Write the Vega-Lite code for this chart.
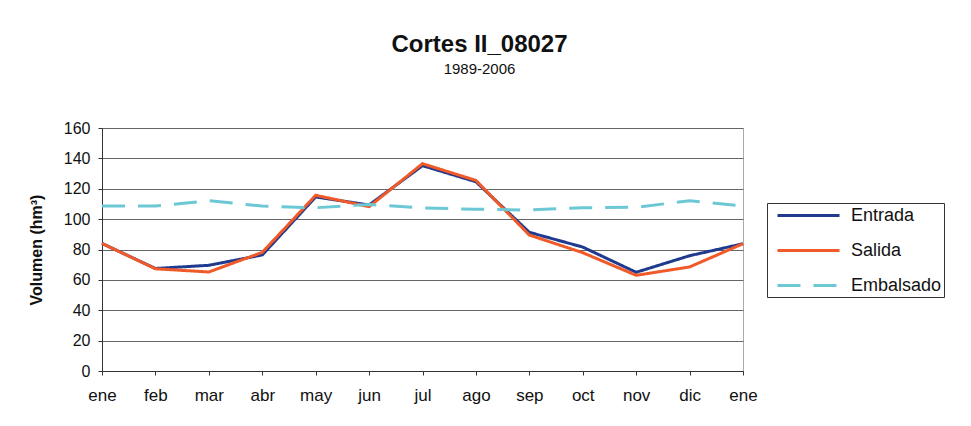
{
  "$schema": "https://vega.github.io/schema/vega-lite/v6.json",
  "width": 641,
  "height": 243,
  "autosize": {"type": "none"},
  "padding": {"left": 102, "top": 128, "right": 228, "bottom": 55},
  "background": "white",
  "title": {
    "text": "Cortes II_08027",
    "subtitle": "1989-2006",
    "anchor": "middle",
    "frame": "group",
    "dx": 57,
    "offset": 43,
    "font": "Liberation Sans",
    "fontSize": 24,
    "fontWeight": "bold",
    "color": "#111",
    "subtitleFont": "Liberation Sans",
    "subtitleFontSize": 15,
    "subtitleColor": "#111",
    "subtitlePadding": 5
  },
  "data": {
    "values": [
      {"i": 0, "serie": "Entrada", "valor": 84},
      {"i": 1, "serie": "Entrada", "valor": 67.5},
      {"i": 2, "serie": "Entrada", "valor": 69.6},
      {"i": 3, "serie": "Entrada", "valor": 76.4},
      {"i": 4, "serie": "Entrada", "valor": 114.6},
      {"i": 5, "serie": "Entrada", "valor": 109.3},
      {"i": 6, "serie": "Entrada", "valor": 135.2},
      {"i": 7, "serie": "Entrada", "valor": 124.6},
      {"i": 8, "serie": "Entrada", "valor": 91.3},
      {"i": 9, "serie": "Entrada", "valor": 81.6},
      {"i": 10, "serie": "Entrada", "valor": 65},
      {"i": 11, "serie": "Entrada", "valor": 75.9},
      {"i": 12, "serie": "Entrada", "valor": 83.8},
      {"i": 0, "serie": "Salida", "valor": 84},
      {"i": 1, "serie": "Salida", "valor": 67.3},
      {"i": 2, "serie": "Salida", "valor": 65.2},
      {"i": 3, "serie": "Salida", "valor": 78.1},
      {"i": 4, "serie": "Salida", "valor": 115.7},
      {"i": 5, "serie": "Salida", "valor": 108.2},
      {"i": 6, "serie": "Salida", "valor": 136.5},
      {"i": 7, "serie": "Salida", "valor": 125.5},
      {"i": 8, "serie": "Salida", "valor": 89.5},
      {"i": 9, "serie": "Salida", "valor": 77.9},
      {"i": 10, "serie": "Salida", "valor": 63},
      {"i": 11, "serie": "Salida", "valor": 68.5},
      {"i": 12, "serie": "Salida", "valor": 83.8},
      {"i": 0, "serie": "Embalsado", "valor": 108.6},
      {"i": 1, "serie": "Embalsado", "valor": 108.6},
      {"i": 2, "serie": "Embalsado", "valor": 112.1},
      {"i": 3, "serie": "Embalsado", "valor": 108.6},
      {"i": 4, "serie": "Embalsado", "valor": 107.5},
      {"i": 5, "serie": "Embalsado", "valor": 109.7},
      {"i": 6, "serie": "Embalsado", "valor": 107.3},
      {"i": 7, "serie": "Embalsado", "valor": 106.5},
      {"i": 8, "serie": "Embalsado", "valor": 106},
      {"i": 9, "serie": "Embalsado", "valor": 107.5},
      {"i": 10, "serie": "Embalsado", "valor": 107.8},
      {"i": 11, "serie": "Embalsado", "valor": 112.1},
      {"i": 12, "serie": "Embalsado", "valor": 108.6}
    ]
  },
  "mark": {"type": "line", "strokeWidth": 3},
  "encoding": {
    "x": {
      "field": "i",
      "type": "quantitative",
      "scale": {"domain": [0, 12], "nice": false, "zero": false},
      "axis": {
        "title": null,
        "values": [0, 1, 2, 3, 4, 5, 6, 7, 8, 9, 10, 11, 12],
        "labelExpr": "['ene','feb','mar','abr','may','jun','jul','ago','sep','oct','nov','dic','ene'][datum.value]",
        "grid": false,
        "domainColor": "#333",
        "tickColor": "#333",
        "tickSize": 4,
        "labelPadding": 12,
        "labelFont": "Liberation Sans",
        "labelFontSize": 17,
        "labelColor": "#111",
        "labelFlush": false
      }
    },
    "y": {
      "field": "valor",
      "type": "quantitative",
      "scale": {"domain": [0, 160], "nice": false},
      "axis": {
        "title": "Volumen (hm³)",
        "titleFont": "Liberation Sans",
        "titleFontSize": 16,
        "titleFontWeight": "bold",
        "titleColor": "#111",
        "titlePadding": 19,
        "values": [0, 20, 40, 60, 80, 100, 120, 140, 160],
        "grid": true,
        "gridColor": "#666",
        "gridWidth": 1,
        "domainColor": "#333",
        "tickColor": "#333",
        "tickSize": 4,
        "labelPadding": 8,
        "labelFont": "Liberation Sans",
        "labelFontSize": 16,
        "labelColor": "#111"
      }
    },
    "color": {
      "field": "serie",
      "type": "nominal",
      "scale": {"domain": ["Entrada", "Salida", "Embalsado"], "range": ["#1F3A8F", "#F05A28", "#6CC8D4"]},
      "legend": {
        "title": null,
        "orient": "none",
        "legendX": 665,
        "legendY": 75,
        "strokeColor": "#333",
        "fillColor": "white",
        "padding": 2.5,
        "symbolType": "M-3.65,0H3.65",
        "symbolSize": 289,
        "symbolStrokeWidth": 3,
        "symbolOffset": 29,
        "labelOffset": 32.5,
        "labelFont": "Liberation Sans",
        "labelFontSize": 18,
        "labelColor": "#111",
        "rowPadding": 16
      }
    },
    "strokeDash": {
      "field": "serie",
      "type": "nominal",
      "scale": {"domain": ["Entrada", "Salida", "Embalsado"], "range": [[1, 0], [1, 0], [23, 13]]},
      "legend": null
    },
    "order": {"field": "i"}
  },
  "config": {
    "view": {"stroke": "#aaa"}
  }
}
